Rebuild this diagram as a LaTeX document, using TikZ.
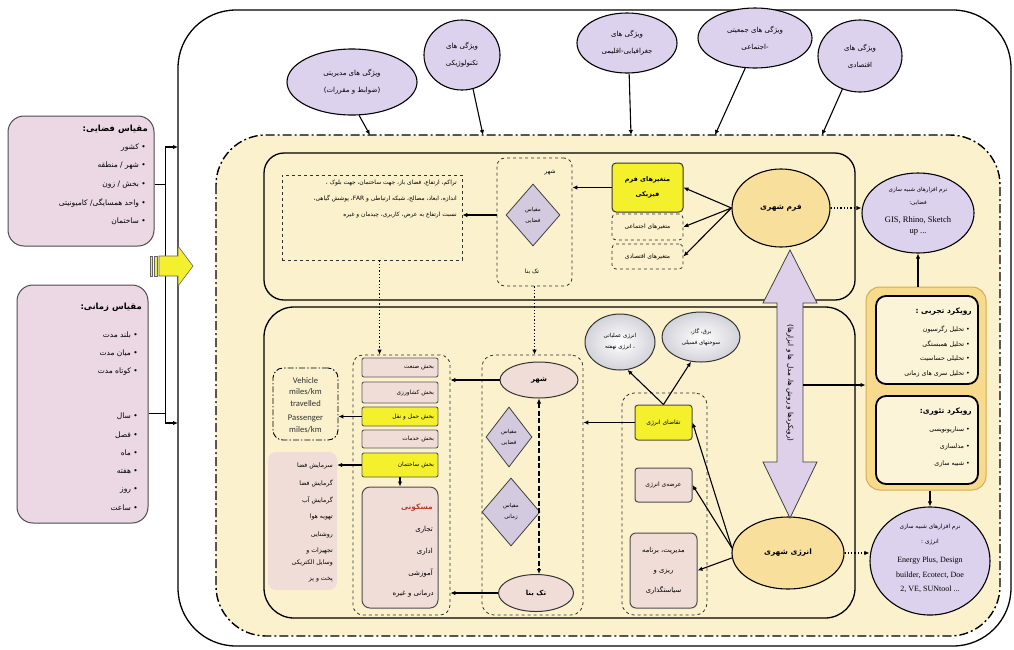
\documentclass[tikz,border=0pt]{standalone}
\usepackage{fontspec}
\usetikzlibrary{arrows.meta,shapes.geometric}
\TeXXeTstate=1
\newfontfamily\arf[Script=Arabic]{DejaVu Sans}
\newfontfamily\lser{Liberation Serif}
\newfontfamily\lsan{Carlito}
\newcommand\prs[1]{\beginR #1\endR}
\newcommand\ltr[1]{\beginL #1\endL}
\definecolor{cream}{HTML}{FBF1CC}
\definecolor{lilac}{HTML}{DDD2EE}
\definecolor{pinkbox}{HTML}{EBD8E4}
\definecolor{diamc}{HTML}{D4CADF}
\definecolor{yel}{HTML}{F4F02C}
\definecolor{orng}{HTML}{F9DF9C}
\definecolor{pnk}{HTML}{F1DDD8}
\definecolor{gry}{HTML}{D2D2DA}
\definecolor{contY}{HTML}{F7DA8C}
\definecolor{contB}{HTML}{D2AE55}
\definecolor{boxW}{HTML}{FCF4D8}
\definecolor{redt}{HTML}{C0392B}
\definecolor{barr}{HTML}{DDD0E8}
\begin{document}
\begin{tikzpicture}[x=1pt,y=-1pt,
 arr/.style={-{Latex[length=5pt,width=4.5pt]},line width=1.1pt},
 dotarr/.style={-{Latex[length=5pt,width=4.5pt]},line width=1.3pt,dotted},
 dasharr/.style={{Latex[length=5pt,width=4.5pt]}-{Latex[length=5pt,width=4.5pt]},line width=1.8pt,dash pattern=on 5pt off 2.5pt},
 fa/.style={font=\arf\fontsize{6}{12.5}\selectfont,inner sep=0pt},
 fab/.style={font=\arf\bfseries\fontsize{7.5}{12}\selectfont,inner sep=0pt},
 topell/.style={ellipse,draw=black,line width=1.1pt,fill=lilac,inner sep=0pt,align=center,font=\arf\fontsize{7}{17}\selectfont},
 diam/.style={diamond,draw=black!75,line width=0.8pt,fill=diamc,inner sep=0pt,align=center,font=\arf\fontsize{5.5}{11}\selectfont},
 dbox/.style={draw=black!80,dashed,line width=0.8pt,inner sep=0pt},
 sect/.style={draw=black!65,line width=0.9pt,fill=pnk,rounded corners=2,minimum width=76,text width=68,align=right,inner sep=0pt,font=\arf\fontsize{5.8}{10}\selectfont},
 lit/.style={font=\arf\fontsize{7.5}{10}\selectfont,inner sep=0pt,anchor=east},
 litb/.style={font=\arf\bfseries\fontsize{8.5}{10}\selectfont,inner sep=0pt,anchor=east},
 rit/.style={font=\arf\fontsize{6.3}{10}\selectfont,inner sep=0pt,anchor=east},
 ritb/.style={font=\arf\bfseries\fontsize{7.5}{10}\selectfont,inner sep=0pt,anchor=east},
 smt/.style={font=\arf\fontsize{6.2}{10}\selectfont,inner sep=0pt,anchor=east},
]
\fill[white] (0,0) rectangle (1014,649);
\useasboundingbox (0,0) rectangle (1014,649);

% outer frame and dash-dot region
\draw[line width=1.3pt,rounded corners=58] (178,10) rectangle (1011,646);
\draw[line width=1.4pt,fill=cream,rounded corners=50,dash pattern=on 9pt off 3pt on 2pt off 3pt] (216,135) rectangle (1000,636);

% left boxes
\node[draw=black!70,line width=1pt,fill=pinkbox,rounded corners=16,minimum width=146,minimum height=130,inner sep=0] (lb1) at (81,181) {};
\node[litb] (lb1t) at (148,129) {\prs{مقیاس فضایی:}};
\node[lit] (lb1a) at (146,148) {\prs{• کشور}};
\node[lit] (lb1b) at (146,166) {\prs{• شهر / منطقه}};
\node[lit] (lb1c) at (146,185) {\prs{• بخش / زون}};
\node[lit] (lb1d) at (146,203) {\prs{• واحد همسایگی/ کامیونیتی}};
\node[lit] (lb1e) at (146,221) {\prs{• ساختمان}};

\node[draw=black!70,line width=1pt,fill=pinkbox,rounded corners=16,minimum width=131,minimum height=238,inner sep=0] (lb2) at (82.5,404) {};
\node[litb] (lb2t) at (142,307) {\prs{مقیاس زمانی:}};
\node[lit] (lb2a) at (138,335) {\prs{•  بلند مدت}};
\node[lit] (lb2b) at (138,353) {\prs{•  میان مدت}};
\node[lit] (lb2c) at (138,372) {\prs{•  کوتاه مدت}};
\node[lit] (lb2d) at (138,416) {\prs{•  سال}};
\node[lit] (lb2e) at (138,435) {\prs{•  فصل}};
\node[lit] (lb2f) at (138,453) {\prs{•  ماه}};
\node[lit] (lb2g) at (138,472) {\prs{•  هفته}};
\node[lit] (lb2h) at (138,490) {\prs{•  روز}};
\node[lit] (lb2i) at (138,508) {\prs{•  ساعت}};

\coordinate (j1) at (165,184);
\coordinate (j2) at (165,413);
\coordinate (lt) at (165,147);
\coordinate (lbm) at (165,423);
\coordinate (ot1) at (178,147);
\coordinate (ot2) at (178,423);
\draw[line width=1pt] (lb1.east |- j1) -- (j1);
\draw[line width=1pt] (lb2.east |- j2) -- (j2);
\draw[line width=1pt] (lt) -- (lbm);
\draw[arr] (lt) -- (ot1);
\draw[arr] (lbm) -- (ot2);

% yellow block arrow
\draw[fill=yel,draw=black!60,line width=0.6pt] (159,256) -- (178,256) -- (178,246) -- (193,266) -- (178,286) -- (178,276) -- (159,276) -- cycle;
\draw[fill=yel,draw=black!60,line width=0.5pt] (150,256) rectangle (152.5,276);
\draw[fill=yel,draw=black!60,line width=0.5pt] (154.5,256) rectangle (157,276);

% top ellipses
\node[topell,minimum width=130,minimum height=66] (e1) at (352,82) {\prs{ویژگی های مدیریتی}\\\prs{(ضوابط و مقررات)}};
\node[topell,minimum width=76,minimum height=70] (e2) at (462,55) {\prs{ویژگی های}\\\prs{تکنولوژیکی}};
\node[topell,minimum width=100,minimum height=60] (e3) at (627,43) {\prs{ویژگی های}\\\prs{جغرافیایی-اقلیمی}};
\node[topell,minimum width=114,minimum height=60] (e4) at (755,38) {\prs{ویژگی های جمعیتی}\\\prs{-اجتماعی}};
\node[topell,minimum width=84,minimum height=72] (e5) at (860,56) {\prs{ویژگی های}\\\prs{اقتصادی}};
\coordinate (t1) at (370,135);
\coordinate (t2) at (483,135);
\coordinate (t3) at (631,135);
\coordinate (t4) at (715,135);
\coordinate (t5) at (822,135);
\draw[arr] (e1.-78) -- (t1);
\draw[arr] (e2.-72) -- (t2);
\draw[arr] (e3.-86) -- (t3);
\draw[arr] (e4.-108) -- (t4);
\draw[arr] (e5.-118) -- (t5);

% upper inner box
\node[draw,line width=1.3pt,rounded corners=20,minimum width=591,minimum height=147,inner sep=0] (ubox) at (559.5,226.5) {};
\node[dbox,minimum width=180,minimum height=85] (rectA) at (372,217.5) {};
\node[fa,anchor=north east,align=right,font=\arf\fontsize{5.9}{16}\selectfont] (rectAt) at (457,180) {\prs{تراکم، ارتفاع، فضای باز، جهت ساختمان، جهت بلوک ،}\\\prs{اندازه، ابعاد، مصالح، شبکه ارتباطی و \ltr{FAR}، پوشش گیاهی،}\\\prs{نسبت ارتفاع به عرض، کاربری، چیدمان و غیره}};
\node[dbox,rounded corners=8,minimum width=75,minimum height=128] (cityA) at (534.5,222) {};
\node[fa] (cityAt) at (550,172) {\prs{شهر}};
\node[diam,minimum width=54,minimum height=62] (dA) at (533,215) {\prs{مقیاس}\\\prs{فضایی}};
\node[fa] (cityAb) at (532,272) {\prs{تک بنا}};
\node[draw=black!80,line width=1pt,fill=yel,rounded corners=4,minimum width=71,minimum height=49,inner sep=0,align=center,font=\arf\bfseries\fontsize{6.5}{15}\selectfont] (phys) at (647.5,187.5) {\prs{متغیرهای فرم}\\\prs{فیزیکی}};
\node[dbox,rounded corners=4,minimum width=71,minimum height=26,fa] (soc) at (647.5,227) {\prs{متغیرهای اجتماعی}};
\node[dbox,rounded corners=4,minimum width=71,minimum height=25,fa] (eco) at (647.5,256.5) {\prs{متغیرهای اقتصادی}};
\node[ellipse,draw,line width=1.1pt,fill=orng,minimum width=98,minimum height=78,inner sep=0,fab] (formE) at (781,208) {\prs{فرم شهری}};

\draw[arr] (phys.west) -- (cityA.east |- phys.west);
\draw[arr] (cityA.west |- dA) -- (rectA.east |- dA);
\draw[arr] (formE.west) -- (phys.east);
\draw[arr] (formE.west) -- (soc.east);
\draw[arr] (formE.west) -- (eco.east);

% right top ellipse
\node[ellipse,draw,line width=1.1pt,fill=lilac,minimum width=112,minimum height=80,inner sep=0] (spatE) at (918,213) {};
\node[font=\arf\fontsize{5.6}{10}\selectfont,inner sep=0] (spatE1) at (918,190) {\prs{نرم افزارهای شبیه سازی}};
\node[font=\arf\fontsize{5.6}{10}\selectfont,inner sep=0] (spatE2) at (918,203) {\prs{فضایی:}};
\node[font=\lser\fontsize{8.5}{10}\selectfont,inner sep=0] (spatE3) at (918,220) {GIS, Rhino, Sketch};
\node[font=\lser\fontsize{8.5}{10}\selectfont,inner sep=0] (spatE4) at (918,232) {up ...};
\draw[dotarr] (formE.east) -- (formE.east -| spatE.west);

% lower inner box
\node[draw,line width=1.3pt,rounded corners=30,minimum width=591,minimum height=311,inner sep=0] (lbox) at (559.5,462.5) {};

% sectors
\node[dbox,rounded corners=10,minimum width=97,minimum height=260] (secC) at (401.5,485) {};
\node[sect,minimum height=19] (s1) at (400,367.5) {\prs{بخش صنعت}};
\node[sect,minimum height=21] (s2) at (400,392.5) {\prs{بخش کشاورزی}};
\node[sect,minimum height=19,fill=yel] (s3) at (400,416.5) {\prs{بخش حمل و نقل}};
\node[sect,minimum height=18] (s4) at (400,439) {\prs{بخش خدمات}};
\node[sect,minimum height=24,fill=yel] (s5) at (400,465) {\prs{بخش ساختمان}};
\node[draw=black!70,line width=1pt,fill=pnk,rounded corners=8,minimum width=76,minimum height=121,inner sep=0] (bigB) at (400,547.5) {};
\node[font=\arf\bfseries\fontsize{7.5}{10}\selectfont,text=redt,inner sep=0,anchor=east] (bb1) at (433,508) {\prs{مسکونی}};
\node[font=\arf\fontsize{7}{10}\selectfont,inner sep=0,anchor=east] (bb2) at (433,530) {\prs{تجاری}};
\node[font=\arf\fontsize{7}{10}\selectfont,inner sep=0,anchor=east] (bb3) at (433,552) {\prs{اداری}};
\node[font=\arf\fontsize{7}{10}\selectfont,inner sep=0,anchor=east] (bb4) at (433,573) {\prs{آموزشی}};
\node[font=\arf\fontsize{7}{10}\selectfont,inner sep=0,anchor=east] (bb5) at (434,594) {\prs{درمانی و غیره}};

\node[draw,line width=0.9pt,dash pattern=on 6pt off 2pt on 1.5pt off 2pt,rounded corners=10,minimum width=65,minimum height=72,inner sep=0] (veh) at (305.5,404) {};
\node[font=\lsan\fontsize{8.6}{11.5}\selectfont,align=center,text=black!80,inner sep=0] (vehT) at (305.5,405) {Vehicle\\miles/km\\travelled\\[3pt]Passenger\\miles/km};

\node[fill=pnk,rounded corners=8,minimum width=69,minimum height=138,inner sep=0] (plist) at (302.5,521) {};
\node[smt] (p1) at (333,466) {\prs{سرمایش فضا}};
\node[smt] (p2) at (333,483) {\prs{گرمایش فضا}};
\node[smt] (p3) at (333,500) {\prs{گرمایش آب}};
\node[smt] (p4) at (333,517) {\prs{تهویه هوا}};
\node[smt] (p5) at (333,535) {\prs{روشنایی}};
\node[smt] (p6) at (333,551) {\prs{تجهیزات و}};
\node[smt] (p7) at (333,563) {\prs{وسایل الکتریکی}};
\node[smt] (p8) at (333,580) {\prs{پخت و پز}};

\draw[arr] (s3.west) -- (s3.west -| veh.east);
\draw[arr] (s5.west) -- (s5.west -| plist.east);
\draw[arr] (s5.south) -- (bigB.north);

% city / single building
\node[dbox,rounded corners=12,minimum width=101,minimum height=260] (cityC) at (532.5,485) {};
\node[ellipse,draw=black!80,line width=1pt,fill=pnk,minimum width=78,minimum height=36,inner sep=0,font=\arf\bfseries\fontsize{7}{10}\selectfont] (city2) at (539,380) {\prs{شهر}};
\node[ellipse,draw=black!80,line width=1pt,fill=pnk,minimum width=75,minimum height=37,inner sep=0,font=\arf\bfseries\fontsize{7}{10}\selectfont] (single2) at (536,593) {\prs{تک بنا}};
\node[diam,minimum width=46,minimum height=60] (d1) at (509,437) {\prs{مقیاس}\\\prs{فضایی}};
\node[diam,minimum width=58,minimum height=68] (d2) at (511,512) {\prs{مقیاس}\\\prs{زمانی}};
\draw[dasharr] (city2.south) -- (city2.south |- single2.north);
\draw[arr] (city2.west) -- (city2.west -| secC.east);
\draw[arr] (single2.west) -- (single2.west -| secC.east);

\draw[dotarr] (rectA.-80) -- (rectA.-80 |- secC.north);
\draw[dotarr] (cityA.south) -- (cityA.south |- cityC.north);

% energy
\node[dbox,rounded corners=12,minimum width=85,minimum height=222] (enC) at (664.5,504) {};
\node[draw=black!70,line width=1pt,fill=yel,rounded corners=3,minimum width=57,minimum height=35,inner sep=0,fa] (demand) at (663.5,422.5) {\prs{تقاضای انرژی}};
\node[draw=black!70,line width=1pt,fill=pnk,rounded corners=3,minimum width=57,minimum height=34,inner sep=0,fa] (supply) at (663.5,485) {\prs{عرضه‌ی انرژی}};
\node[draw=black!70,line width=1pt,fill=pnk,rounded corners=6,minimum width=67,minimum height=75,inner sep=0,align=center,font=\arf\fontsize{6.8}{20}\selectfont] (manage) at (663.5,570.5) {\prs{مدیریت، برنامه}\\\prs{ریزی و}\\\prs{سیاستگذاری}};
\node[ellipse,draw=black!80,line width=1pt,inner color=white,outer color=gry,minimum width=70,minimum height=56,inner sep=0,align=center,font=\arf\fontsize{5.5}{11}\selectfont] (g1) at (620,342) {\prs{انرژی عملیاتی}\\\prs{، انرژی نهفته}};
\node[ellipse,draw=black!80,line width=1pt,inner color=white,outer color=gry,minimum width=78,minimum height=50,inner sep=0,align=center,font=\arf\fontsize{5.5}{11}\selectfont] (g2) at (701,337) {\prs{برق، گاز،}\\\prs{سوختهای فسیلی}};
\draw[arr] (demand.north) -- (g1.-75);
\draw[arr] (demand.north) -- (g2.-112);
\draw[arr] (demand.west) -- (demand.west -| cityC.east);

\node[ellipse,draw,line width=1.1pt,fill=orng,minimum width=112,minimum height=72,inner sep=0,fab] (eE) at (788,553) {\prs{انرژی شهری}};
\draw[arr] (eE.175) -- (demand.east);
\draw[arr] (eE.175) -- (supply.east);
\draw[arr] (eE.185) -- (manage.east);

% double block arrow
\draw[fill=barr,draw=black!75,line width=0.8pt] (790,250) -- (817,303) -- (803,303) -- (803,462) -- (817,462) -- (790,518) -- (763,462) -- (777,462) -- (777,303) -- (763,303) -- cycle;
\node[rotate=-90,font=\arf\fontsize{7.2}{10}\selectfont,inner sep=0] (barT) at (790,383) {\prs{(رویکردها و روش ها، مدل ها و ابزارها)}};
\coordinate (bar) at (803,385);

% right container
\node[draw=contB,fill=contY,line width=1pt,rounded corners=14,minimum width=120,minimum height=203,inner sep=0] (cont) at (926,388.5) {};
\node[draw=black,fill=boxW,line width=1.8pt,rounded corners=10,minimum width=102,minimum height=88,inner sep=0] (boxT) at (927,340) {};
\node[ritb] (bT0) at (972,312) {\prs{رویکرد تجربی :}};
\node[rit] (bT1) at (970,329) {\prs{•  تحلیل رگرسیون}};
\node[rit] (bT2) at (970,344) {\prs{•  تحلیل همبستگی}};
\node[rit] (bT3) at (970,359) {\prs{•  تحلیلی حساسیت}};
\node[rit] (bT4) at (970,374) {\prs{•  تحلیل سری های زمانی}};
\node[draw=black,fill=boxW,line width=1.8pt,rounded corners=10,minimum width=102,minimum height=88,inner sep=0] (boxTh) at (927,440) {};
\node[ritb] (bH0) at (972,412) {\prs{رویکرد تئوری:}};
\node[rit] (bH1) at (970,430) {\prs{•  سناریونویسی}};
\node[rit] (bH2) at (970,447) {\prs{•  مدلسازی}};
\node[rit] (bH3) at (970,464) {\prs{•  شبیه سازی}};
\draw[arr] (bar) -- (bar -| cont.west);
\draw[arr] (spatE.south |- cont.north) -- (spatE.south);

% energy software ellipse
\node[ellipse,draw,line width=1.1pt,fill=lilac,minimum width=120,minimum height=108,inner sep=0] (enE) at (930,561) {};
\node[font=\arf\fontsize{5.8}{10}\selectfont,inner sep=0] (enE1) at (930,527) {\prs{نرم افزارهای شبیه سازی}};
\node[font=\arf\fontsize{5.8}{10}\selectfont,inner sep=0] (enE2) at (930,542) {\prs{انرژی :}};
\node[font=\lser\fontsize{8}{10}\selectfont,inner sep=0] (enE3) at (930,561) {Energy Plus, Design};
\node[font=\lser\fontsize{8}{10}\selectfont,inner sep=0] (enE4) at (930,575) {builder, Ecotect, Doe};
\node[font=\lser\fontsize{8}{10}\selectfont,inner sep=0] (enE5) at (930,589) {2, VE, SUNtool ...};
\draw[arr] (enE.north |- cont.south) -- (enE.north);
\draw[dotarr] (eE.east) -- (eE.east -| enE.west);
\end{tikzpicture}
\end{document}
